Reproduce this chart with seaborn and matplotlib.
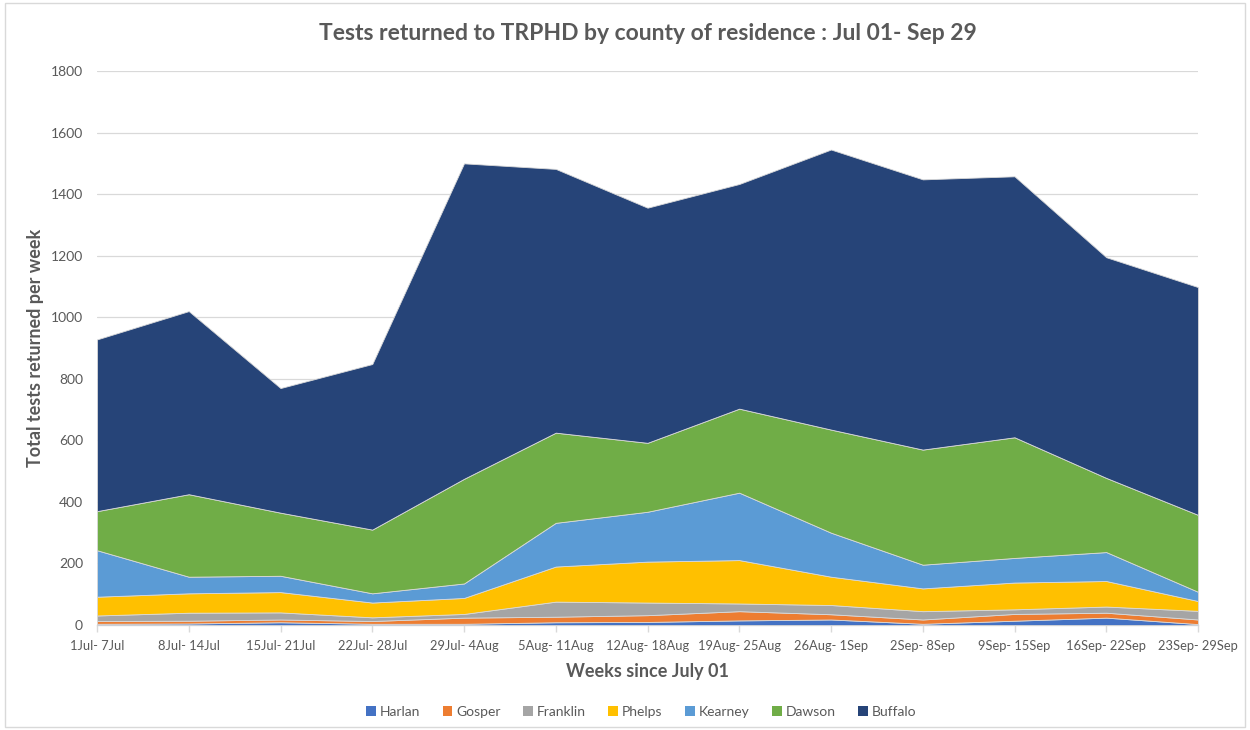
import matplotlib
matplotlib.use("Agg")
import matplotlib.pyplot as plt
from matplotlib.patches import Rectangle
import numpy as np
import pandas as pd
import seaborn as sns

# week labels on the x axis
weeks = ['1Jul- 7Jul', '8Jul- 14Jul', '15Jul- 21Jul', '22Jul- 28Jul', '29Jul- 4Aug',
         '5Aug- 11Aug', '12Aug- 18Aug', '19Aug- 25Aug', '26Aug- 1Sep', '2Sep- 8Sep',
         '9Sep- 15Sep', '16Sep- 22Sep', '23Sep- 29Sep']

# tests returned per week, by county
harlan   = [4, 5, 9, 4, 4, 9, 10, 15, 18, 4, 14, 24, 3]
gosper   = [9, 9, 9, 9, 20, 18, 22, 30, 17, 14, 22, 16, 15]
franklin = [18, 26, 23, 12, 12, 49, 41, 25, 30, 27, 15, 20, 28]
phelps   = [61, 63, 66, 48, 52, 114, 133, 141, 92, 74, 87, 83, 32]
kearney  = [151, 54, 53, 30, 47, 142, 162, 219, 143, 77, 80, 94, 30]
dawson   = [127, 268, 205, 207, 340, 293, 224, 273, 335, 374, 392, 241, 250]
buffalo  = [558, 595, 405, 538, 1025, 857, 764, 730, 910, 878, 848, 717, 740]

counties = ['Harlan', 'Gosper', 'Franklin', 'Phelps', 'Kearney', 'Dawson', 'Buffalo']
colors = ['#4472C4', '#ED7D31', '#A5A5A5', '#FFC000', '#5B9BD5', '#70AD47', '#264478']

df = pd.DataFrame({'Harlan': harlan, 'Gosper': gosper, 'Franklin': franklin,
                   'Phelps': phelps, 'Kearney': kearney, 'Dawson': dawson,
                   'Buffalo': buffalo}, index=weeks)

sns.set_theme(style="white")
plt.rcParams['font.family'] = ['Lato', 'DejaVu Sans']
grey = '#595959'

fig = plt.figure(figsize=(12.5, 7.3), dpi=100)
ax = fig.add_axes([0.0776, 0.1438, 0.8808, 0.7589])

x = np.arange(len(weeks))
ax.stackplot(x, [df[c].values for c in counties], colors=colors, labels=counties,
             edgecolor='#d9d9d9', linewidth=0.6, zorder=3)

ax.set_xlim(0, len(weeks) - 1)
ax.set_ylim(0, 1800)
ax.set_yticks(range(0, 1801, 200))
ax.set_xticks(x)
ax.set_xticklabels(weeks)
ax.grid(axis='y', color='#d9d9d9', linewidth=0.9, zorder=0)
ax.grid(axis='x', visible=False)
for s in ['top', 'right', 'left']:
    ax.spines[s].set_visible(False)
ax.spines['bottom'].set_color('#d9d9d9')
ax.spines['bottom'].set_linewidth(1)
ax.tick_params(axis='x', colors='#d9d9d9', length=5, width=1, direction='out',
               labelcolor=grey, labelsize=9.3, pad=6, bottom=True)
ax.tick_params(axis='y', length=0, labelcolor=grey, labelsize=10, pad=10)

ax.set_title('Tests returned to TRPHD by county of residence : Jul 01- Sep 29',
             fontsize=16.5, fontweight='bold', color=grey, pad=22)
ax.set_xlabel('Weeks since July 01', fontsize=13, fontweight='bold', color=grey, labelpad=8)
ax.set_ylabel('Total tests returned per week', fontsize=13, fontweight='bold', color=grey, labelpad=5)

handles = [Rectangle((0, 0), 1, 1, facecolor=c, edgecolor='none') for c in colors]
fig.legend(handles, counties, loc='center', bbox_to_anchor=(0.513, 0.025), ncol=7,
           frameon=False, fontsize=10, handlelength=0.7, handleheight=0.7,
           handletextpad=0.3, columnspacing=1.6, labelcolor=grey)

# light chart border
fig.patches.append(Rectangle((0.004, 0.004), 0.992, 0.992, transform=fig.transFigure,
                             fill=False, edgecolor='#d9d9d9', linewidth=1))

fig.savefig('out.png', dpi=100)
